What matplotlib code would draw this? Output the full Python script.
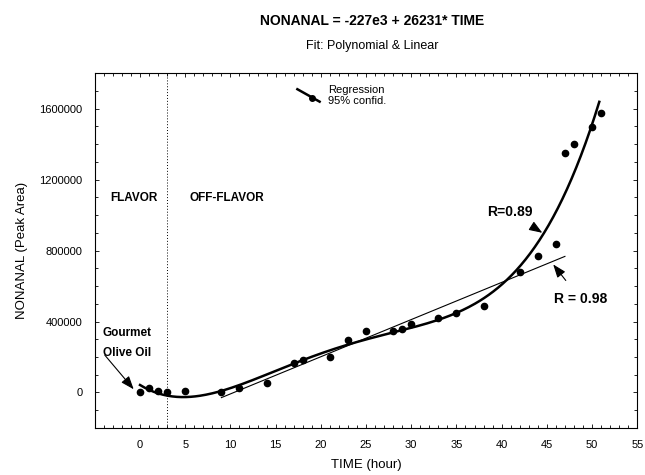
import numpy as np
import matplotlib
matplotlib.use("Agg")
import matplotlib.pyplot as plt
from matplotlib.lines import Line2D
from matplotlib.legend_handler import HandlerBase
from matplotlib.ticker import FuncFormatter

plt.rcParams['font.family'] = ['Liberation Sans', 'DejaVu Sans']

# data
time_h = [0, 1, 2, 3, 5, 9, 11, 14, 17, 18, 21, 23, 25, 28, 29, 30, 33, 35,
          38, 42, 44, 46, 47, 48, 50, 51]
nonanal = [3000, 25000, 8000, 3000, 8000, 3000, 25000, 54000, 166000, 183000,
           200000, 296000, 346000, 346000, 358000, 386000, 420000, 448000,
           487000, 679000, 769000, 837000, 1349000, 1400000, 1496000, 1575000]
lin_range = [9, 47]      # hours used for the linear fit
poly_range = [0, 50.8]
poly_deg = 4
boundary_h = 3           # flavor / off-flavor limit

x = np.array(time_h, dtype=float)
y = np.array(nonanal, dtype=float)

# linear regression on the off-flavor part
m = (x >= lin_range[0]) & (x < lin_range[1])
lin = np.polyfit(x[m], y[m], 1)
xl = np.linspace(lin_range[0], lin_range[1], 50)

# polynomial regression on everything
poly = np.polyfit(x, y, poly_deg)
xp = np.linspace(poly_range[0], poly_range[1], 300)


class SlantHandler(HandlerBase):
    def create_artists(self, legend, orig_handle, xdescent, ydescent,
                       width, height, fontsize, trans):
        ln = Line2D([0, width], [height * 1.3, -height * 0.3], color='k',
                    lw=1.8, transform=trans)
        dot = Line2D([width * 0.68], [height * 0.2], marker='o', color='k',
                     ms=4, transform=trans)
        return [ln, dot]


fig = plt.figure(figsize=(6.45, 4.75), dpi=100)
ax = fig.add_axes([0.147, 0.099, 0.841, 0.747])

ax.plot(xp, np.polyval(poly, xp), color='k', lw=1.8)
ax.plot(xl, np.polyval(lin, xl), color='k', lw=0.8)
ax.plot(x, y, 'o', color='k', ms=4.5)
ax.axvline(boundary_h, color='k', ls=(0, (1, 2)), lw=0.7)

ax.set_xlim(-5, 55)
ax.set_ylim(-200000, 1800000)
ax.set_xticks(np.arange(0, 56, 5))
ax.set_xticks(np.arange(-5, 56, 1), minor=True)
ax.set_yticks(np.arange(0, 1600001, 400000))
ax.set_yticks(np.arange(-200000, 1800001, 100000), minor=True)
ax.yaxis.set_major_formatter(FuncFormatter(lambda v, p: '%d' % v))
ax.tick_params(which='both', direction='in', top=True, right=True,
               labelsize=8, width=0.6)
ax.tick_params(which='major', length=3, pad=9)
ax.tick_params(which='minor', length=2)
for s in ax.spines.values():
    s.set_linewidth(0.8)

ax.set_xlabel('TIME (hour)', fontsize=9.5, labelpad=6)
ax.set_ylabel('NONANAL (Peak Area)', fontsize=9.5, labelpad=8)

fig.text(0.577, 0.955, 'NONANAL = -227e3 + 26231* TIME', ha='center',
         va='center', fontsize=10, fontweight='bold')
fig.text(0.577, 0.903, 'Fit: Polynomial & Linear', ha='center',
         va='center', fontsize=9)

bold = dict(fontsize=8.5, fontweight='bold')
ax.text(-3.3, 1094000, 'FLAVOR', va='center', **bold)
ax.text(5.5, 1094000, 'OFF-FLAVOR', va='center', **bold)
ax.text(-4.1, 337000, 'Gourmet', va='center', **bold)
ax.text(-4.1, 224000, 'Olive Oil', va='center', **bold)

arrow = dict(arrowstyle='-|>,head_length=0.8,head_width=0.3', color='k',
             lw=0.8, shrinkA=0, shrinkB=0)
ax.annotate('', xy=(-0.7, 18000), xytext=(-3.9, 211000), arrowprops=arrow)
ax.annotate('R=0.89', xy=(44.5, 900000), xytext=(40.9, 1017000),
            ha='center', va='center', fontsize=10, fontweight='bold',
            arrowprops=dict(arrow, shrinkA=6))
ax.annotate('R = 0.98', xy=(45.7, 722000), xytext=(48.7, 527000),
            ha='center', va='center', fontsize=10, fontweight='bold',
            arrowprops=dict(arrow, shrinkA=8))

leg_h = Line2D([], [], color='k')
leg = ax.legend([leg_h], ['Regression\n95% confid.'], handler_map={Line2D: SlantHandler()},
                loc='upper left', bbox_to_anchor=(0.355, 0.995), frameon=False,
                fontsize=8, handlelength=2.0, handletextpad=0.8)
leg.get_texts()[0].set_linespacing(1.1)

fig.savefig('out.png', dpi=100)
